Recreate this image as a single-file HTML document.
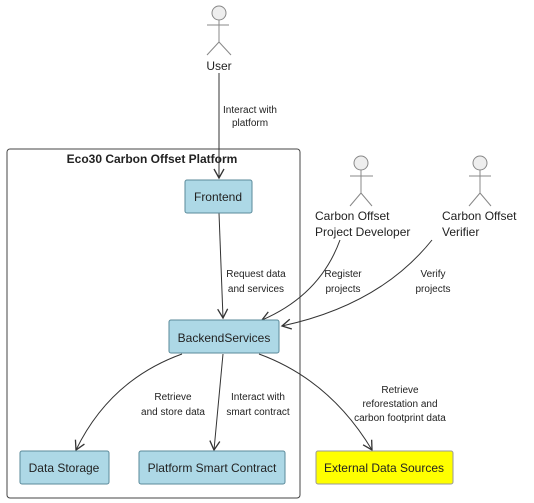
<!DOCTYPE html>
<html><head><style>
body{margin:0;background:#fff;}
svg{display:block;font-family:"Liberation Sans",Arial,sans-serif;}
</style></head><body>
<svg width="534" height="503" viewBox="0 0 534 503" xmlns="http://www.w3.org/2000/svg">
<defs><marker id="a" markerWidth="12" markerHeight="12" refX="10" refY="6" orient="auto" markerUnits="userSpaceOnUse"><path d="M1,1 L10,6 L1,11" fill="none" stroke="#333" stroke-width="1.3"/></marker></defs>
<rect x="7" y="149" width="293" height="349" rx="3" fill="none" stroke="#444" stroke-width="1"/>
<text x="152" y="163" font-size="12" font-weight="bold" text-anchor="middle" fill="#222">Eco30 Carbon Offset Platform</text>
<g stroke="#888" fill="none" stroke-width="1">
<circle cx="219" cy="13" r="7" fill="#eee"/><path d="M219 20V42M207 25H229M219 42L207 55M219 42L231 55"/>
<circle cx="361" cy="163" r="7" fill="#eee"/><path d="M361 170V193M350 176H373M361 193L350 206M361 193L372 206"/>
<circle cx="480" cy="163" r="7" fill="#eee"/><path d="M480 170V193M469 176H491M480 193L469 206M480 193L491 206"/>
</g>
<g font-size="12" fill="#222">
<text x="219" y="70" text-anchor="middle">User</text>
<text x="315" y="220">Carbon Offset</text><text x="315" y="236">Project Developer</text>
<text x="442" y="220">Carbon Offset</text><text x="442" y="236">Verifier</text>
</g>
<g stroke="#333" fill="none" stroke-width="1" marker-end="url(#a)">
<path d="M219 73V178"/>
<path d="M219 213L223 318"/>
<path d="M340 240Q320 295 262 320"/>
<path d="M432 240Q380 305 282 326"/>
<path d="M182 354Q110 380 76 450"/>
<path d="M223 354L214 450"/>
<path d="M259 354Q330 380 372 450"/>
</g>
<g font-size="10" fill="#222" text-anchor="middle">
<text x="250" y="113">Interact with</text><text x="250" y="126">platform</text>
<text x="256" y="277">Request data</text><text x="256" y="292">and services</text>
<text x="343" y="277">Register</text><text x="343" y="292">projects</text>
<text x="433" y="277">Verify</text><text x="433" y="292">projects</text>
<text x="173" y="400">Retrieve</text><text x="173" y="415">and store data</text>
<text x="258" y="400">Interact with</text><text x="258" y="415">smart contract</text>
<text x="400" y="393">Retrieve</text><text x="400" y="407">reforestation and</text><text x="400" y="421">carbon footprint data</text>
</g>
<g stroke="#5a8a9a" stroke-width="1">
<rect x="185" y="180" width="67" height="33" rx="2" fill="#add8e6"/>
<rect x="169" y="320" width="110" height="33" rx="2" fill="#add8e6"/>
<rect x="20" y="451" width="89" height="33" rx="2" fill="#add8e6"/>
<rect x="139" y="451" width="146" height="33" rx="2" fill="#add8e6"/>
<rect x="316" y="451" width="137" height="33" rx="2" fill="#ffff00" stroke="#999"/>
</g>
<g font-size="12" fill="#222" text-anchor="middle">
<text x="218" y="201">Frontend</text>
<text x="224" y="342">BackendServices</text>
<text x="64" y="472">Data Storage</text>
<text x="212" y="472">Platform Smart Contract</text>
<text x="384" y="472">External Data Sources</text>
</g>
</svg>
</body></html>
